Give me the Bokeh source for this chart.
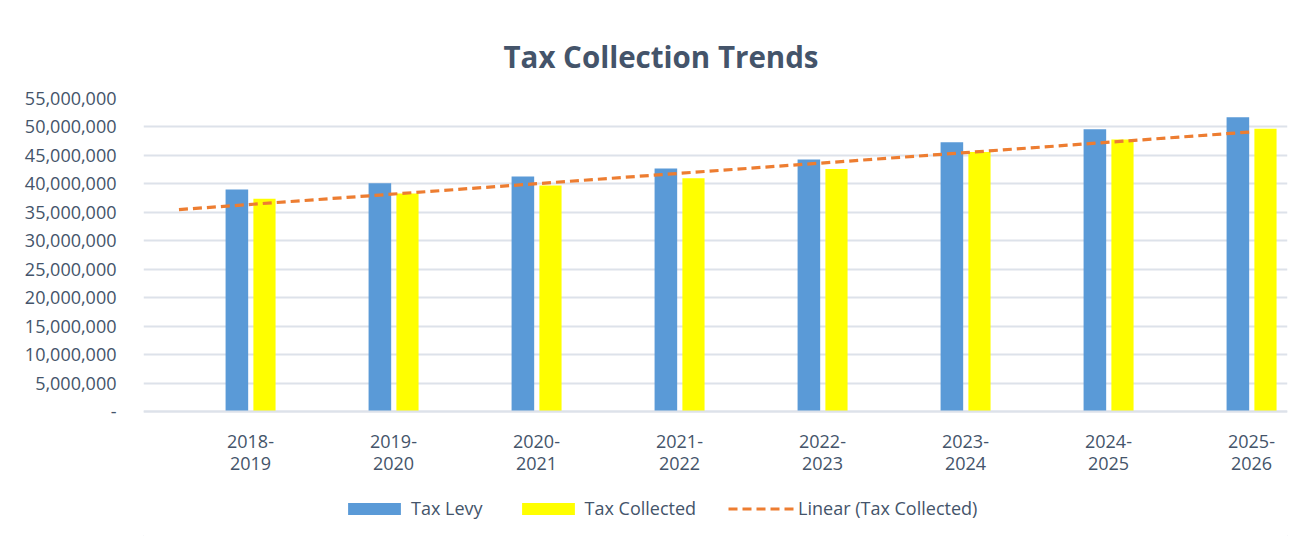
import numpy as np
from bokeh.plotting import figure
from bokeh.models import (ColumnDataSource, Range1d, FixedTicker, NumeralTickFormatter,
                          Legend, LegendItem)
from bokeh.transform import dodge
from bokeh.embed import file_html
from bokeh.resources import INLINE

# ---- data ----
categories = ["2018-\n2019", "2019-\n2020", "2020-\n2021", "2021-\n2022",
              "2022-\n2023", "2023-\n2024", "2024-\n2025", "2025-\n2026"]
tax_levy = [39.0e6, 40.1e6, 41.3e6, 42.7e6, 44.3e6, 47.3e6, 49.6e6, 51.7e6]
tax_collected = [37.4e6, 38.3e6, 39.7e6, 41.0e6, 42.6e6, 45.6e6, 47.8e6, 49.7e6]
y_ticks = list(range(0, 55_000_001, 5_000_000))

TEXT = "#44546a"
FONT = "Open Sans"
GRID = "#dde2ea"

idx = list(range(len(categories)))
src = ColumnDataSource(dict(x=idx, levy=tax_levy, coll=tax_collected))

# linear trendline of Tax Collected (least squares), backward forecast 0.5
slope, intercept = np.polyfit(idx, tax_collected, 1)
trend_x = [-0.5, idx[-1]]
trend_y = [slope * t + intercept for t in trend_x]

# frame extends below zero so the legend can sit inside it; the x axis is pinned at 0
p = figure(frame_width=1144, frame_height=439, output_backend="svg", toolbar_location=None,
           x_range=Range1d(-0.748, 7.252), y_range=Range1d(-22.13e6, 55e6),
           min_border_left=143, min_border_right=26, min_border_top=98,
           min_border_bottom=0,
           styles={"outline": "1px solid #dde2ea", "outline-offset": "-2px"})
p.outline_line_color = None

p.title.text = "Tax Collection Trends"
p.title.align = "left"
p.title.offset = 360
p.title.text_font = FONT
p.title.text_font_style = "bold"
p.title.text_font_size = "29.5px"
p.title.text_color = TEXT
p.title.standoff = 44

r_levy = p.vbar(x=dodge("x", -0.095), top="levy", width=0.158, source=src,
                fill_color="#5a9ad7", line_color=None)
r_coll = p.vbar(x=dodge("x", 0.098), top="coll", width=0.155, source=src,
                fill_color="#ffff00", line_color=None)
r_trend = p.line(trend_x, trend_y, line_color="#ed7d31", line_width=3.2,
                 line_dash="9 5")

# axes
p.yaxis.ticker = FixedTicker(ticks=y_ticks)
p.yaxis.formatter = NumeralTickFormatter(format="0,0")
p.yaxis.major_label_overrides = {0: "-"}
p.yaxis.axis_line_color = None
p.yaxis.major_tick_line_color = None
p.yaxis.minor_tick_line_color = None
p.yaxis.major_label_standoff = 21
p.yaxis.major_label_text_font = FONT
p.yaxis.major_label_text_font_size = "18px"
p.yaxis.major_label_text_color = TEXT

p.xaxis.fixed_location = 0
p.xaxis.ticker = FixedTicker(ticks=idx)
p.xaxis.major_label_overrides = {i: c for i, c in zip(idx, categories)}
p.xaxis.axis_line_color = GRID
p.xaxis.axis_line_width = 2
p.xaxis.major_tick_line_color = None
p.xaxis.minor_tick_line_color = None
p.xaxis.major_label_standoff = 11
p.xaxis.major_label_text_font = FONT
p.xaxis.major_label_text_font_size = "18px"
p.xaxis.major_label_text_line_height = 0.93
p.xaxis.major_label_text_color = TEXT

p.xgrid.grid_line_color = None
p.ygrid.ticker = FixedTicker(ticks=y_ticks)
p.ygrid.grid_line_color = GRID
p.ygrid.grid_line_width = 2

legend = Legend(items=[LegendItem(label="Tax Levy", renderers=[r_levy]),
                       LegendItem(label="Tax Collected", renderers=[r_coll]),
                       LegendItem(label="Linear (Tax Collected)", renderers=[r_trend])],
                orientation="horizontal", location=(198, 17),
                glyph_width=66, glyph_height=15, label_standoff=4, spacing=32,
                label_text_font=FONT, label_text_font_size="18px",
                label_text_color=TEXT, border_line_color=None,
                background_fill_alpha=0, margin=0, padding=4)
p.add_layout(legend, "center")

open("out.html", "w").write(file_html(p, INLINE))
